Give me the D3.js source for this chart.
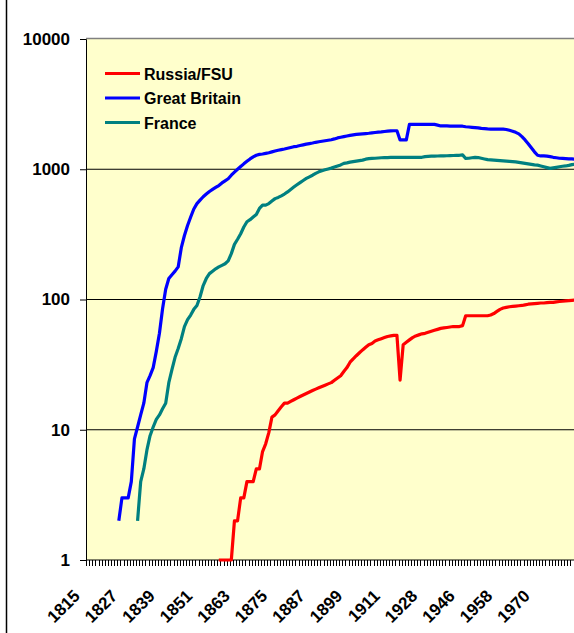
<!DOCTYPE html>
<html>
<head>
<meta charset="utf-8">
<script src="https://cdn.jsdelivr.net/npm/d3@7"></script>
<style>
  body { margin: 0; background: #fff; overflow: hidden; }
  svg { display: block; font-family: "Liberation Sans", Arial, sans-serif; font-weight: bold; }
</style>
</head>
<body>
<div id="chart"></div>
<script>
// categories: the x axis is a category axis, so years with gaps get equal spacing
const years = [...d3.range(1815, 1912), 1912, 1913, 1914, 1919, 1920, 1921, 1922, 1923, 1924, 1925, 1926,
    ...d3.range(1928, 1940), ...d3.range(1946, 1984)];

const tickLabels = [1815, 1827, 1839, 1851, 1863, 1875, 1887, 1899, 1911, 1928, 1946, 1958, 1970];
const yTicks = [1, 10, 100, 1000, 10000];

// Russia/FSU, from 1857
const russiaFrom = 1857;
const russia = [
    1, 1, 1, 1, 1, 2, 2, 3,
    3, 4, 4, 4, 5, 5, 6.8, 7.8, 9.5, 12.5,
    13, 14, 15, 16, 16, 16.5, 17, 17.5, 18, 18.5,
    19, 19.5, 20, 20.5, 21, 21.5, 22, 22.5, 23, 24,
    25, 26, 28, 30, 33, 35, 37, 39, 41, 43,
    45, 46, 48, 49, 50, 51, 52, 52.5, 53, 53,
    24, 45, 47, 49, 51, 52.5, 53.5, 54.5, 55, 56,
    57, 58, 59, 60, 60.5, 61, 61.5, 62, 62, 62,
    63, 75, 75, 75, 75, 75, 75, 75, 75, 76,
    78, 81, 84, 86, 87, 88, 88.5, 89, 89.5, 90,
    91, 92, 92.5, 93, 93.5, 94, 94, 94.5, 95, 95,
    96, 96.5, 97, 97.5, 98, 98.5, 99, 99.5
];

// Great Britain, from 1825
const britainFrom = 1825;
const britain = [
    2, 3, 3, 3, 4, 8.5, 10.5, 13, 16, 23,
    26, 30, 40, 55, 85, 120, 145, 155, 165, 178,
    250, 310, 370, 430, 495, 545, 580, 615, 645, 675,
    700, 725, 750, 785, 815, 845, 900, 950, 1000, 1050,
    1100, 1150, 1200, 1245, 1280, 1300, 1310, 1325, 1340, 1360,
    1380, 1400, 1415, 1430, 1450, 1470, 1490, 1500, 1520, 1540,
    1560, 1575, 1590, 1610, 1625, 1640, 1655, 1670, 1685, 1710,
    1740, 1760, 1780, 1800, 1820, 1835, 1850, 1860, 1870, 1880,
    1890, 1905, 1915, 1925, 1935, 1950, 1960, 1970, 1975, 1975,
    1680, 1680, 1680, 2210, 2210, 2210, 2210, 2210, 2210, 2210,
    2210, 2210, 2180, 2150, 2150, 2150, 2145, 2145, 2140, 2140,
    2140, 2120, 2110, 2100, 2090, 2080, 2060, 2050, 2040, 2035,
    2035, 2035, 2035, 2030, 2020, 1990, 1960, 1920, 1870, 1780,
    1680, 1570, 1460, 1360, 1280, 1265, 1265, 1260, 1250, 1235,
    1225, 1215, 1210, 1205, 1200, 1200, 1195, 1195
];

// France, from 1831
const franceFrom = 1831;
const france = [
    2, 4, 5, 7,
    9, 10.5, 12, 13, 14.5, 16, 23, 29, 36, 42,
    50, 62, 70, 76, 84, 90, 105, 128, 145, 158,
    165, 172, 178, 183, 188, 198, 225, 265, 290, 320,
    360, 395, 410, 430, 450, 500, 530, 530, 545, 570,
    595, 608, 625, 645, 670, 700, 730, 760, 790, 820,
    850, 875, 900, 930, 955, 975, 990, 1005, 1020, 1040,
    1060, 1080, 1110, 1120, 1135, 1145, 1155, 1165, 1175, 1195,
    1205, 1210, 1215, 1220, 1225, 1230, 1230, 1235, 1235, 1235,
    1235, 1235, 1235, 1235, 1235, 1235, 1235, 1235, 1250, 1255,
    1260, 1262, 1264, 1266, 1268, 1270, 1272, 1275, 1278, 1280,
    1290, 1210, 1215, 1225, 1235, 1230, 1215, 1200, 1185, 1180,
    1175, 1170, 1165, 1160, 1155, 1150, 1145, 1140, 1130, 1120,
    1110, 1100, 1090, 1080, 1075, 1060, 1045, 1030, 1015, 1025,
    1035, 1045, 1055, 1060, 1070, 1085, 1095, 1100
];

const series = [
    { name: 'Russia/FSU', color: '#FF0000', from: russiaFrom, values: russia },
    { name: 'Great Britain', color: '#0000FF', from: britainFrom, values: britain },
    { name: 'France', color: '#008080', from: franceFrom, values: france }
];

const width = 574, height = 633;
const plot = { left: 86, top: 39, bottom: 560, step: 3.125 };
plot.right = plot.left + years.length * plot.step;

const svg = d3.select('#chart').append('svg')
    .attr('width', width)
    .attr('height', height);

// chart area border (only the left edge falls inside the picture)
svg.append('line')
    .attr('x1', 6.5).attr('x2', 6.5)
    .attr('y1', 0).attr('y2', height)
    .attr('stroke', '#000')
    .attr('stroke-width', 1.5);

const x = d3.scaleBand()
    .domain(years)
    .range([plot.left, plot.right])
    .padding(0);

const y = d3.scaleLog()
    .domain([1, 10000])
    .range([plot.bottom, plot.top]);

const cx = d => x(d) + x.bandwidth() / 2;

// plot area
svg.append('rect')
    .attr('x', plot.left).attr('y', plot.top)
    .attr('width', plot.right - plot.left)
    .attr('height', plot.bottom - plot.top)
    .attr('fill', '#FFFFCC');

svg.append('line')
    .attr('x1', plot.left).attr('x2', plot.right)
    .attr('y1', plot.top - 0.5).attr('y2', plot.top - 0.5)
    .attr('stroke', '#808080')
    .attr('stroke-width', 1.5);

// gridlines
svg.append('g')
    .selectAll('line')
    .data(yTicks.slice(1, -1))
    .join('line')
    .attr('x1', plot.left).attr('x2', plot.right)
    .attr('y1', d => y(d)).attr('y2', d => y(d))
    .attr('stroke', '#000')
    .attr('stroke-width', 1);

// y axis
const yAxis = svg.append('g')
    .attr('transform', `translate(${plot.left},0)`)
    .call(d3.axisLeft(y).tickValues(yTicks).tickFormat(d3.format('d')).tickSize(6).tickPadding(10));
yAxis.select('.domain').attr('stroke', '#000');
yAxis.selectAll('text')
    .attr('fill', '#000')
    .style('font-size', '17px')
    .style('font-weight', 'bold')
    .style('font-family', '"Liberation Sans", Arial, sans-serif');

// x axis line and tick marks between categories
svg.append('line')
    .attr('x1', plot.left).attr('x2', plot.right)
    .attr('y1', plot.bottom).attr('y2', plot.bottom)
    .attr('stroke', '#000');

svg.append('g')
    .selectAll('line')
    .data(years)
    .join('line')
    .attr('x1', d => Math.round(x(d)) + 0.5).attr('x2', d => Math.round(x(d)) + 0.5)
    .attr('y1', plot.bottom).attr('y2', plot.bottom + 6)
    .attr('stroke', '#000')
    .attr('stroke-width', 1);

svg.append('g')
    .selectAll('text')
    .data(tickLabels)
    .join('text')
    .attr('transform', d => `translate(${cx(d) - 6.5},597) rotate(-45)`)
    .attr('text-anchor', 'end')
    .style('font-size', '17px')
    .text(d => d);

// series lines
const line = d3.line()
    .x(d => cx(d.year))
    .y(d => y(d.value));

series.forEach(s => {
    const start = years.indexOf(s.from);
    const pts = s.values.map((v, i) => ({ year: years[start + i], value: v }));
    svg.append('path')
        .datum(pts)
        .attr('fill', 'none')
        .attr('stroke', s.color)
        .attr('stroke-width', 3.2)
        .attr('stroke-linejoin', 'round')
        .attr('d', line);
});

// legend
const legend = svg.append('g')
    .selectAll('g')
    .data(series)
    .join('g')
    .attr('transform', (d, i) => `translate(105,${73.5 + i * 24.5})`);

legend.append('line')
    .attr('x1', 0).attr('x2', 35)
    .attr('stroke', d => d.color)
    .attr('stroke-width', 3.2);

legend.append('text')
    .attr('x', 39)
    .attr('y', 6)
    .style('font-size', '16px')
    .text(d => d.name);
</script>
</body>
</html>
